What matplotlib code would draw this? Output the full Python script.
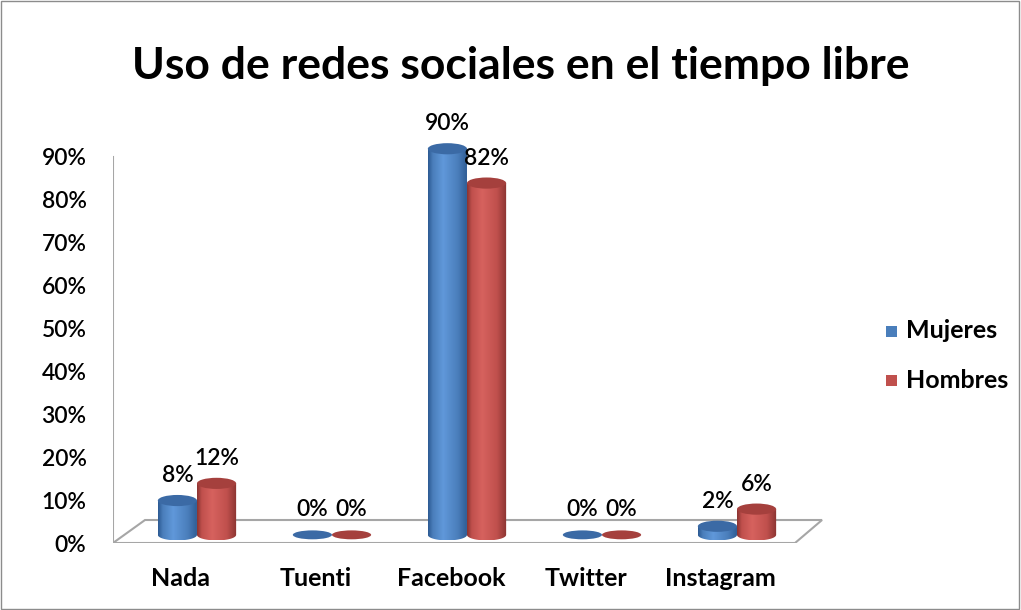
import matplotlib
matplotlib.use('Agg')
import matplotlib.pyplot as plt
import numpy as np
from matplotlib.patches import Polygon, Ellipse, Rectangle
from matplotlib.colors import LinearSegmentedColormap

categories = ['Nada', 'Tuenti', 'Facebook', 'Twitter', 'Instagram']
mujeres = [8, 0, 90, 0, 2]
hombres = [12, 0, 82, 0, 6]
series_names = ['Mujeres', 'Hombres']
y_ticks = [0, 10, 20, 30, 40, 50, 60, 70, 80, 90]

plt.rcParams['font.family'] = ['Lato', 'DejaVu Sans']

W, H = 1021, 610
fig = plt.figure(figsize=(W / 100, H / 100), dpi=100)


def px_rect(l, t, r, b):
    return [l / W, 1 - b / H, (r - l) / W, (b - t) / H]


ax = fig.add_axes(px_rect(113, 114, 835, 543))
for s in ax.spines.values():
    s.set_visible(False)
ax.set_xticks([])
ax.set_yticks(y_ticks)
ax.set_yticklabels([f'{v}%' for v in y_ticks], fontsize=16.5, fontweight='semibold')
ax.tick_params(axis='y', length=0, pad=19)

# floor of the 3d box
floor = Polygon([(-0.622, 0), (4.43, 0), (4.63, 5.36), (-0.385, 5.36)],
                closed=True, facecolor='white', edgecolor='#a6a6a6', lw=1.5, zorder=1)
ax.add_patch(floor)
ax.plot([-0.622, -0.622], [0, 90], color='#a6a6a6', lw=1.5, zorder=1)

bw = 0.29
eh = 2.6
base = 1.9
styles = {
    'Mujeres': dict(color='#4a7ebb', light='#6098da', dark='#2c5a92', cap='#3b6aa5'),
    'Hombres': dict(color='#c0504d', light='#d6625e', dark='#8a3431', cap='#a5403d'),
}


def cylinder(xc, val, st):
    x0, x1 = xc - bw / 2, xc + bw / 2
    top = base + val
    if val > 0:
        t = np.linspace(np.pi, 2 * np.pi, 40)
        bx = xc + bw / 2 * np.cos(t)
        by = base + eh / 2 * np.sin(t)
        verts = [(x0, top)] + list(zip(bx, by)) + [(x1, top)]
        body = Polygon(verts, closed=True, facecolor='none', edgecolor='none')
        ax.add_patch(body)
        cmap = LinearSegmentedColormap.from_list(
            'c', [(0, st['dark']), (0.12, st['color']), (0.38, st['light']),
                  (0.75, st['color']), (1, st['dark'])])
        grad = np.linspace(0, 1, 200).reshape(1, -1)
        im = ax.imshow(grad, cmap=cmap, extent=[x0, x1, base - eh / 2, top],
                       aspect='auto', zorder=3)
        im.set_clip_path(body)
        ax.add_patch(Ellipse((xc, top), bw, eh, facecolor=st['cap'], edgecolor='none', zorder=4))
    else:
        ax.add_patch(Ellipse((xc, top), bw, eh * 0.8, facecolor=st['cap'], edgecolor='none', zorder=4))
    ax.text(xc, top + 5.8, f'{val}%', ha='center', va='center', fontsize=16.5,
            fontweight='semibold', zorder=5)


for i in range(len(categories)):
    cylinder(i - bw / 2, mujeres[i], styles['Mujeres'])
    cylinder(i + bw / 2, hombres[i], styles['Hombres'])
    ax.text(i - 0.12, -8.2, categories[i], ha='center', va='center', fontsize=18,
            fontweight='bold', clip_on=False)

ax.set_xlim(-0.622, 4.726)
ax.set_ylim(0, 100)

fig.text(0.51, 1 - 66 / H, 'Uso de redes sociales en el tiempo libre', ha='center',
         va='center', fontsize=32, fontweight='bold')

# legend
for k, name in enumerate(series_names):
    yc = 331 + k * 49
    fig.patches.append(Rectangle((886 / W, 1 - (yc + 5.5) / H), 11 / W, 11 / H,
                                 transform=fig.transFigure, facecolor=styles[name]['color'],
                                 edgecolor='none'))
    fig.text(906 / W, 1 - yc / H, name, ha='left', va='center', fontsize=18, fontweight='bold')

fig.patches.append(Rectangle((0.001, 0.001), 0.997, 0.997, transform=fig.transFigure,
                             fill=False, edgecolor='#8c8c8c', lw=1))

fig.savefig('out.png', dpi=100)
